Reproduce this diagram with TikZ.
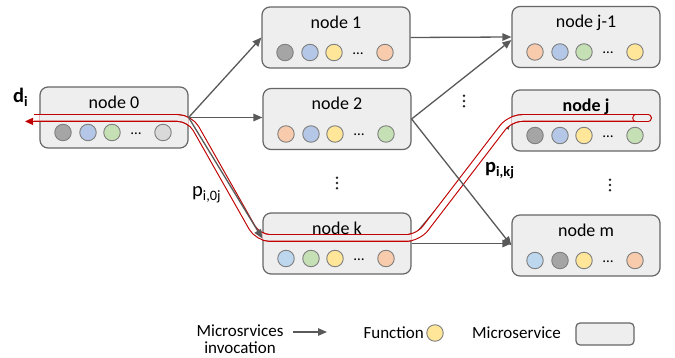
\documentclass[tikz,border=0pt]{standalone}
\usepackage{fontspec}
\setmainfont{Carlito}
\usetikzlibrary{arrows.meta,calc}

\definecolor{boxfill}{HTML}{EEEEEE}
\definecolor{boxline}{HTML}{666666}
\definecolor{arrowgray}{HTML}{595959}
\definecolor{tubered}{HTML}{C00000}
\definecolor{fgray}{HTML}{A5A5A5}
\definecolor{fblue}{HTML}{B4C7E7}
\definecolor{fsky}{HTML}{BDD7EE}
\definecolor{fgreen}{HTML}{C5E0B4}
\definecolor{fyellow}{HTML}{FFE699}
\definecolor{forange}{HTML}{F8CBAD}
\definecolor{flight}{HTML}{D9D9D9}
\definecolor{fnborder}{HTML}{7F7F7F}

\tikzset{
  svcbox/.style={draw=boxline, fill=boxfill, line width=1.2pt, rounded corners=8pt,
    minimum width=148pt, minimum height=61pt, inner sep=0pt},
  svctitle/.style={font=\fontsize{18}{21}\selectfont, anchor=base, inner sep=0pt},
  fn/.style={circle, draw=fnborder, line width=0.9pt, minimum size=16.5pt, inner sep=0pt},
  more/.style={font=\fontsize{15}{15}\selectfont, inner sep=0pt, anchor=base},
  inv/.style={draw=arrowgray, line width=1.3pt, -{Triangle[length=9pt,width=7.5pt]}},
  tube/.style={draw=tubered, line width=1.1pt, double=white, double distance=5.5pt,
    rounded corners=12pt},
  lbl/.style={font=\fontsize{20.5}{22}\selectfont, inner sep=0pt, anchor=base west},
  legend/.style={font=\fontsize{17}{17}\selectfont, inner sep=0pt, align=center},
  vdot/.style={fill=black!85}
}

% title and function circles of one microservice box
\newcommand\svcbody[6]{%
  \node[svctitle] (#1-t) at ([yshift=9pt]#1.center) {#2};
  \node[fn, fill=#3] (#1-a) at ([xshift=-51pt,yshift=-15pt]#1.center) {};
  \node[fn, fill=#4] (#1-b) at ([xshift=-26pt,yshift=-15pt]#1.center) {};
  \node[fn, fill=#5] (#1-c) at ([xshift=-2pt,yshift=-15pt]#1.center) {};
  \node[more] (#1-d) at ([xshift=22pt,yshift=-17pt]#1.center) {…};
  \node[fn, fill=#6] (#1-e) at ([xshift=49pt,yshift=-15pt]#1.center) {};
}

\begin{document}
\begin{tikzpicture}[x=1pt,y=-1pt]
  \useasboundingbox (0,0) rectangle (675,358);

  % microservice boxes
  \node[svcbox] (n0)  at (114,117.5) {};
  \node[svcbox] (n1)  at (336,37.5) {};
  \node[svcbox] (n2)  at (337,119) {};
  \node[svcbox] (nk)  at (337,243.5) {};
  \node[svcbox] (nj1) at (586,37) {};
  \node[svcbox] (nj)  at (586,120.5) {};
  \node[svcbox] (nm)  at (586,245.5) {};

  % invocation hidden under the request path
  \draw[inv] ([yshift=5pt]nk.east) -- ([yshift=0pt]nj.west);

  % request path p_i
  \coordinate (t0) at (34,118);
  \coordinate (t1) at (190,118);
  \coordinate (t2) at (258,238);
  \coordinate (t3) at (418,238);
  \coordinate (t4) at (510,118);
  \coordinate (t5) at (642,118);
  \coordinate (t6) at (648,118);
  \draw[tube] (t0) -- (t1) -- (t2) -- (t3) -- (t4) -- (t5);
  \draw[tube, line cap=round] ($(t5)+(-6pt,0)$) -- (t6);
  \begin{scope}
    \clip (n0.south west) rectangle (n0.north east)
          (nk.south west) rectangle (nk.north east)
          (nj.south west) rectangle (nj.north east);
    \draw[tube, double=boxfill] (t0) -- (t1) -- (t2) -- (t3) -- (t4) -- (t5);
    \draw[tube, double=boxfill, line cap=round] ($(t5)+(-6pt,0)$) -- (t6);
  \end{scope}
  \coordinate (r0) at (35,121.4);
  \coordinate (r1) at (25,121.4);
  \draw[draw=tubered, line width=1.1pt, -{Triangle[length=8pt,width=7pt]}] (r0) -- (r1);

  % box contents
  \svcbody{n0}{node 0}{fgray}{fblue}{fgreen}{flight}
  \svcbody{n1}{node 1}{fgray}{fblue}{fyellow}{forange}
  \svcbody{n2}{node 2}{forange}{fblue}{fyellow}{fgreen}
  \svcbody{nk}{node k}{fsky}{fgreen}{fyellow}{forange}
  \svcbody{nj1}{node j-1}{forange}{fblue}{fgreen}{fyellow}
  \svcbody{nj}{\textbf{node j}}{fgray}{fblue}{fyellow}{fgreen}
  \svcbody{nm}{node m}{fsky}{fgray}{fyellow}{forange}

  % invocations
  \draw[inv] (n0.east) -- (n1.west);
  \draw[inv] (n0.east) -- (n0.east -| n2.west);
  \draw[inv] (n0.east) -- ([yshift=5pt]nk.west);
  \draw[inv] (n1.east) -- (nj1.west);
  \draw[inv] (n2.east) -- ([yshift=-3pt]nj1.west);
  \draw[inv] (n2.east) -- (nm.west);
  \draw[inv] (nk.east) -- (nk.east -| nm.west);

  % vertical ellipses
  \foreach \x/\y in {337/183, 464/101, 610/185}
    \foreach \d in {-5.2,0,5.2}
      \fill[vdot] (\x,\y+\d) circle (1.4pt);

  % labels
  \node[lbl, font=\fontsize{20.5}{22}\selectfont\bfseries] (di) at (13,103) {d\textsubscript{i}};
  \node[lbl] (p0j) at (192,197) {p\textsubscript{i,0j}};
  \node[lbl, font=\fontsize{20.5}{22}\selectfont\bfseries] (pkj) at (485,173) {p\textsubscript{i,kj}};

  % legend
  \node[legend] (lg-inv) at (240,339) {Microsrvices\\invocation};
  \coordinate (lg-a) at (293,332);
  \coordinate (lg-b) at (327,332);
  \draw[inv, line width=1.1pt] (lg-a) -- (lg-b);
  \node[legend, anchor=east] (lg-fn-t) at (424,333) {Function};
  \node[fn, fill=fyellow] (lg-fn) at (435,333) {};
  \node[legend, anchor=west] (lg-ms-t) at (472,333) {Microservice};
  \node[draw=boxline, fill=boxfill, line width=1.2pt, rounded corners=4pt,
        minimum width=58pt, minimum height=22pt, inner sep=0pt] (lg-ms) at (605,334) {};
\end{tikzpicture}
\end{document}
